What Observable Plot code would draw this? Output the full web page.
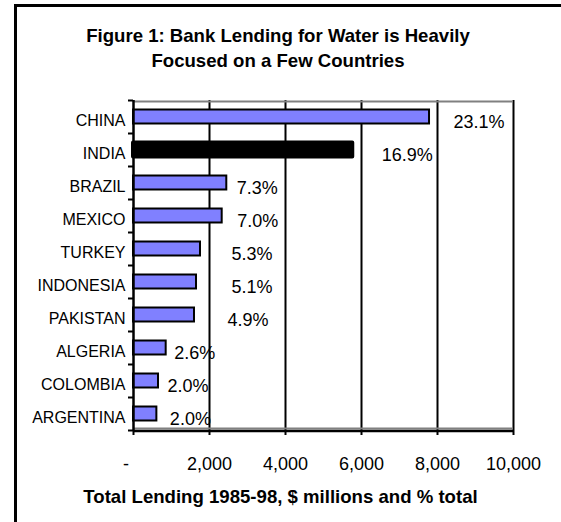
<!DOCTYPE html>
<html>
<head>
<meta charset="utf-8">
<script src="https://cdn.jsdelivr.net/npm/d3@7"></script>
<script src="https://cdn.jsdelivr.net/npm/@observablehq/plot@0.6"></script>
<style>
  html, body { margin: 0; padding: 0; overflow: hidden; background: #fff; width: 561px; height: 522px; }
  body { font-family: "Liberation Sans", Arial, sans-serif; color: #000; position: relative; }
  #border { position: absolute; left: 14px; top: 4px; width: 800px; height: 800px;
            border-left: 3px solid #000; border-top: 3px solid #000; box-sizing: border-box; }
  #title { position: absolute; left: 0; top: 23px; width: 556px; text-align: center;
           font-weight: bold; font-size: 18.6px; line-height: 25px; }
  #chart { position: absolute; left: 0; top: 0; }
  #xlabel { position: absolute; left: 0; top: 486px; width: 561px; text-align: center;
            font-weight: bold; font-size: 18.6px; line-height: 22px; }
</style>
</head>
<body>
<div id="border"></div>
<div id="chart"></div>
<div id="title">Figure 1: Bank Lending for Water is Heavily<br>Focused on a Few Countries</div>
<div id="xlabel">Total Lending 1985-98, $ millions and % total</div>
<script>
// ---- data ----
const categories = ["CHINA", "INDIA", "BRAZIL", "MEXICO", "TURKEY", "INDONESIA", "PAKISTAN", "ALGERIA", "COLOMBIA", "ARGENTINA"];
const lending = [7790, 5770, 2455, 2334, 1763, 1658, 1605, 860, 658, 615]; // $ millions
const shares = ["23.1%", "16.9%", "7.3%", "7.0%", "5.3%", "5.1%", "4.9%", "2.6%", "2.0%", "2.0%"];
const highlight = "INDIA";
const xTicks = [0, 2000, 4000, 6000, 8000, 10000];
const xTickLabels = ["-\u00a0\u00a0\u00a0", "2,000", "4,000", "6,000", "8,000", "10,000"];

// ---- layout ----
const W = 561, H = 522, mL = 133, mR = 48, mT = 100, mB = 92;
const pxPerUnit = (W - mL - mR) / xTicks[xTicks.length - 1];
const labelShift = [24, 29, 10, 15, 31, 35, 33, 8, 9, 13]; // px gap between bar end and label
const halfBar = 0.212;
const n = categories.length;

const rows = categories.map((c, i) => ({c, i, v: lending[i], s: shares[i]}));

const chart = Plot.plot({
  width: W, height: H,
  marginLeft: mL, marginRight: mR, marginTop: mT, marginBottom: mB,
  style: {fontFamily: '"Liberation Sans", Arial, sans-serif', fontSize: "18px", color: "#000", background: "transparent"},
  x: {domain: [0, xTicks[xTicks.length - 1]]},
  y: {domain: [0, n], reverse: true},
  marks: [
    Plot.gridX(xTicks.slice(1), {stroke: "#000", strokeOpacity: 1, strokeWidth: 2}),
    Plot.ruleY([0], {stroke: "#808080", strokeWidth: 2, dy: 1}),
    Plot.ruleY([n], {stroke: "#808080", strokeWidth: 2, dy: -2}),
    Plot.ruleY([n], {stroke: "#000", strokeWidth: 2.5, dy: 0.5}),
    Plot.rectX(rows.filter(d => d.c !== highlight), {
      x1: 0, x2: "v", y1: d => d.i + 0.5 - halfBar, y2: d => d.i + 0.5 + halfBar,
      fill: "#8080ff", stroke: "#000", strokeWidth: 2
    }),
    Plot.rectX(rows.filter(d => d.c === highlight), {
      x1: 0, x2: "v", y1: d => d.i + 0.5 - halfBar, y2: d => d.i + 0.5 + halfBar,
      fill: "#000", stroke: "#000", strokeWidth: 4, strokeLinejoin: "round"
    }),
    Plot.ruleX([0], {stroke: "#000", strokeWidth: 2.5}),
    Plot.axisX({ticks: xTicks, tickSize: 5, tickPadding: 22, strokeWidth: 2,
      tickFormat: v => xTickLabels[xTicks.indexOf(v)], fontSize: 18, label: null}),
    Plot.axisY({ticks: d3.range(0, n + 1), tickSize: 5, strokeWidth: 2, tickFormat: () => "", label: null}),
    Plot.axisY({ticks: d3.range(n).map(i => i + 0.5), tickSize: 0, tickPadding: 8,
      tickFormat: v => categories[Math.floor(v)], fontSize: 16, dy: 4, label: null}),
    Plot.text(rows, {
      x: d => d.v + labelShift[d.i] / pxPerUnit, y: d => d.i + 0.5, text: "s",
      textAnchor: "start", fontSize: 18, dy: 5.5, fill: "#000"
    })
  ]
});
document.getElementById("chart").appendChild(chart);
</script>
</body>
</html>
